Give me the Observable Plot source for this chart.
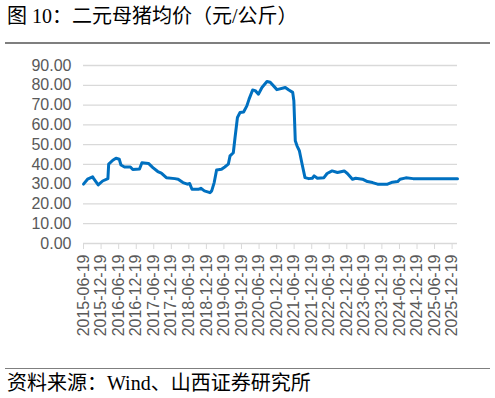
<!DOCTYPE html>
<html>
<head>
<meta charset="utf-8">
<script src="https://cdn.jsdelivr.net/npm/d3@7"></script>
<script src="https://cdn.jsdelivr.net/npm/@observablehq/plot@0.6"></script>
<style>
  html, body { margin: 0; padding: 0; background: #fff; }
  #wrap { position: relative; width: 495px; height: 398px; overflow: hidden; }
  .title { position: absolute; left: 7px; top: 4px; font-family: "Liberation Serif", "Noto Sans CJK SC", sans-serif; font-size: 20px; line-height: 24px; color: #000; white-space: nowrap; }
  .rule { position: absolute; left: 5px; width: 485px; height: 1.5px; background: #7f7f7f; }
  .source { position: absolute; left: 7px; top: 371px; font-family: "Liberation Serif", "Noto Sans CJK SC", serif; font-size: 20px; line-height: 24px; color: #000; white-space: nowrap; }
  #chart { position: absolute; left: 0; top: 50px; }
</style>
</head>
<body>
<div id="wrap">
  <div class="title">图 10：二元母猪均价（元/公斤）</div>
  <div class="rule" style="top:42px"></div>
  <div id="chart"></div>
  <div class="rule" style="top:367.5px"></div>
  <div class="source">资料来源：Wind、山西证券研究所</div>
</div>
<script>
const dates = ["2015-06-19","2015-07-31","2015-09-22","2015-10-07","2015-11-19","2016-01-04","2016-02-28","2016-03-07","2016-04-19","2016-05-22","2016-06-25","2016-07-13","2016-08-19","2016-10-19","2016-11-13","2017-01-22","2017-02-16","2017-04-25","2017-06-10","2017-07-31","2017-09-06","2017-10-28","2018-01-25","2018-02-28","2018-04-19","2018-06-04","2018-06-28","2018-07-22","2018-09-25","2018-10-22","2018-11-28","2019-01-25","2019-02-12","2019-03-10","2019-04-04","2019-05-25","2019-06-28","2019-08-04","2019-08-22","2019-09-25","2019-10-13","2019-11-07","2019-12-04","2020-01-10","2020-02-13","2020-03-07","2020-04-13","2020-05-10","2020-06-13","2020-07-19","2020-09-09","2020-10-13","2020-12-22","2021-03-19","2021-04-25","2021-06-04","2021-06-16","2021-07-01","2021-07-19","2021-08-13","2021-09-10","2021-10-10","2021-11-19","2021-12-25","2022-01-13","2022-02-16","2022-04-25","2022-05-28","2022-07-19","2022-09-13","2022-11-22","2022-12-25","2023-02-16","2023-03-22","2023-05-31","2023-07-22","2023-09-13","2023-11-04","2024-02-16","2024-04-07","2024-05-31","2024-06-25","2024-08-25","2024-11-07","2025-06-19","2026-02-13"];
const prices = [30.0,32.5,33.7,32.5,29.6,31.6,32.8,40.1,42.1,43.1,42.6,39.7,38.7,38.7,37.4,37.7,40.8,40.5,38.4,36.4,35.6,33.3,32.8,32.5,30.8,30.0,30.3,27.4,27.4,27.9,26.6,25.7,26.6,30.8,37.2,37.5,38.7,40.1,44.3,45.9,53.6,63.7,66.2,66.5,69.6,73.0,77.6,77.3,75.5,78.9,81.9,81.5,77.8,78.9,77.6,76.4,72.2,51.9,49.4,46.8,40.1,33.3,32.8,33.0,34.2,33.0,33.3,35.4,36.7,35.9,36.7,35.4,32.5,33.0,32.5,31.3,30.8,30.0,30.0,31.0,31.3,32.5,33.2,32.8,32.8,32.8];
const xTickLabels = ["2015-06-19","2015-12-19","2016-06-19","2016-12-19","2017-06-19","2017-12-19","2018-06-19","2018-12-19","2019-06-19","2019-12-19","2020-06-19","2020-12-19","2021-06-19","2021-12-19","2022-06-19","2022-12-19","2023-06-19","2023-12-19","2024-06-19","2024-12-19","2025-06-19","2025-12-19"];
const yTicks = [0,10,20,30,40,50,60,70,80,90];

const parse = d3.utcParse("%Y-%m-%d");
const data = dates.map((d, i) => ({date: parse(d), price: prices[i]}));
const xTicks = xTickLabels.map(parse);

const chart = Plot.plot({
  width: 495,
  height: 293,
  marginLeft: 83,
  marginRight: 38,
  marginTop: 15,
  marginBottom: 100,
  style: {fontFamily: "'Liberation Sans', Arial, sans-serif", fontSize: "16px", color: "#595959", background: "transparent"},
  x: {type: "utc", domain: [data[0].date, data[data.length - 1].date], label: null},
  y: {domain: [0, 90], label: null},
  marks: [
    Plot.gridY(yTicks, {stroke: "#d9d9d9", strokeOpacity: 1, strokeWidth: 1.3}),
    Plot.axisY(yTicks, {label: null, tickSize: 0, tickPadding: 12, tickFormat: d => d.toFixed(2), fontSize: 16, fill: "#595959"}),
    Plot.axisX(xTicks, {label: null, tickSize: 6, stroke: "#d9d9d9", strokeOpacity: 1, tickRotate: -90, tickPadding: 5, tickFormat: d3.utcFormat("%Y-%m-%d"), fontSize: 16, fill: "#595959"}),
    Plot.line(data, {x: "date", y: "price", stroke: "#0070c0", strokeWidth: 3, strokeLinejoin: "round", strokeLinecap: "round"})
  ]
});
document.getElementById("chart").appendChild(chart);
</script>
</body>
</html>
